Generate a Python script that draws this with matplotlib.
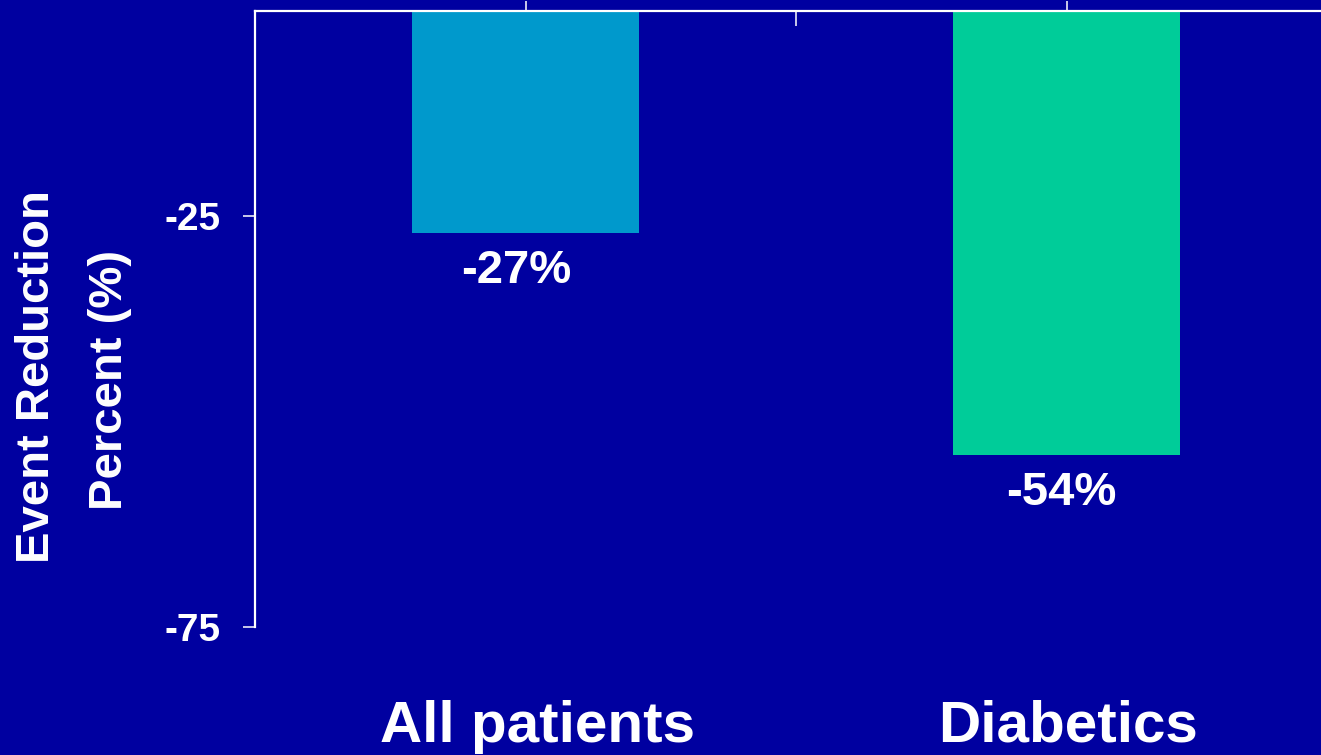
import matplotlib
matplotlib.use("Agg")
import matplotlib.pyplot as plt
from matplotlib.transforms import blended_transform_factory

# Data
categories = ["All patients", "Diabetics"]
reductions = [-27, -54]
value_labels = ["-27%", "-54%"]
ytick_values = [-25, -75]
ytick_labels = ["-25", "-75"]
ylabel_lines = ["Event Reduction", "Percent (%)"]

bg = "#0000A0"
bar_colors = ["#0099CC", "#00CC99"]
white = "white"
font = "Liberation Sans"

plt.rcParams["font.family"] = [font, "DejaVu Sans"]

W, H, DPI = 1321, 755, 100
fig = plt.figure(figsize=(W / DPI, H / DPI), dpi=DPI, facecolor=bg)

left_px, right_px, top_px, bottom_px = 255, 1337, 11, 627
ax = fig.add_axes([left_px / W, 1 - bottom_px / H,
                   (right_px - left_px) / W, (bottom_px - top_px) / H])
ax.set_facecolor(bg)

x = list(range(len(categories)))
ax.bar(x, reductions, width=0.418, color=bar_colors, zorder=2)

ax.set_xlim(-0.5, 1.5)
ax.set_ylim(-75, 0)

# spines
for side in ("bottom", "right"):
    ax.spines[side].set_visible(False)
for side in ("left", "top"):
    ax.spines[side].set_color(white)
    ax.spines[side].set_linewidth(1.6)
    ax.spines[side].set_zorder(3)

# x axis lives on the zero line at the top
ax.xaxis.tick_top()
ax.set_xticks(x)
ax.set_xticklabels([""] * len(x))
ax.set_xticks([0.5], minor=True)
ax.tick_params(axis="x", which="major", direction="out", length=7.5,
               width=1.1, color=white)
ax.tick_params(axis="x", which="minor", direction="in", length=11,
               width=1.1, color=white)

ax.set_yticks(ytick_values)
ax.set_yticklabels(ytick_labels)
ax.tick_params(axis="y", direction="out", length=9, width=1.1, color=white,
               labelcolor=white, labelsize=28, pad=16)
for lbl in ax.get_yticklabels():
    lbl.set_fontweight("bold")

# value labels under each bar
label_offsets = [(-7, -12), (-4, -12)]
for xi, v, txt, off in zip(x, reductions, value_labels, label_offsets):
    ax.annotate(txt, xy=(xi, v), xytext=off, textcoords="offset points",
                ha="center", va="top", color=white, fontsize=34,
                fontweight="bold")

# category labels along the bottom
trans = blended_transform_factory(ax.transData, fig.transFigure)
cat_offsets = [9, 1]
for xi, name, off in zip(x, categories, cat_offsets):
    ax.annotate(name, xy=(xi, 1 - 742 / H), xycoords=trans,
                xytext=(off, 0), textcoords="offset points",
                ha="center", va="baseline", color=white, fontsize=42,
                fontweight="bold", annotation_clip=False)

# two-line rotated y label
fig.text(37 / W, 1 - 377 / H, ylabel_lines[0], rotation=90, ha="center",
         va="center", color=white, fontsize=34, fontweight="bold")
fig.text(110 / W, 1 - 380 / H, ylabel_lines[1], rotation=90, ha="center",
         va="center", color=white, fontsize=34, fontweight="bold")

fig.savefig("out.png", dpi=DPI, facecolor=bg)
